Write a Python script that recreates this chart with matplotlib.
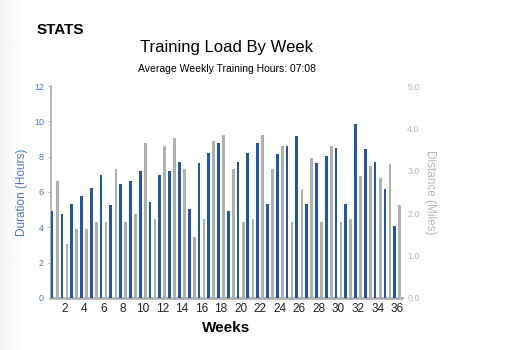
import matplotlib.pyplot as plt
import numpy as np

plt.rcParams['font.family'] = ['Liberation Sans', 'DejaVu Sans']

weeks = np.arange(1, 37)
hours = [4.9, 4.75, 5.3, 5.8, 6.25, 6.95, 5.25, 6.45, 6.65, 7.2, 5.45, 6.95,
         7.2, 7.7, 5.05, 7.65, 8.2, 8.75, 4.95, 7.7, 8.2, 8.75, 5.3, 8.15,
         8.6, 9.15, 5.3, 7.65, 8.05, 8.5, 5.3, 9.85, 8.45, 7.7, 6.15, 4.05]
miles = [2.75, 1.27, 1.63, 1.63, 1.8, 1.8, 3.05, 1.8, 1.98, 3.65, 1.87, 3.59,
         3.77, 3.05, 1.44, 1.87, 3.71, 3.84, 3.05, 1.8, 1.87, 3.84, 3.05, 3.59,
         1.8, 2.58, 3.3, 1.8, 3.59, 1.8, 1.87, 2.87, 3.11, 2.82, 3.17, 2.2]
week_ticks = list(range(2, 37, 2))
hour_ticks = [0, 2, 4, 6, 8, 10, 12]
mile_ticks = [0, 1, 2, 3, 4, 5]

blue = '#1f58ab'
grey = '#b0b0b0'
blue_txt = '#4a7ac4'
grey_txt = '#b8b8b8'

fig = plt.figure(figsize=(5.25, 3.5), dpi=100)
fig.patch.set_facecolor('white')

# faint page shading on the far left
bg = fig.add_axes([0, 0, 0.045, 1], zorder=-5)
bg.imshow(np.linspace(0.955, 1.0, 50).reshape(1, -1), cmap='gray', vmin=0, vmax=1,
          aspect='auto', extent=[0, 1, 0, 1])
bg.axis('off')

ax = fig.add_axes([0.097, 0.149, 0.668, 0.605])
ax2 = ax.twinx()

ax.bar(weeks - 0.26, hours, width=0.28, color=blue, zorder=3)
ax2.bar(weeks + 0.26, miles, width=0.28, color=grey, zorder=3)

ax.set_xlim(0.62, 36.45)
ax.set_ylim(0, 12)
ax2.set_ylim(0, 5)
ax.set_xticks(week_ticks)
ax.set_xticklabels([str(w) for w in week_ticks], fontsize=8.5, color='#222222')
ax.set_yticks(hour_ticks)
ax.set_yticklabels([str(h) for h in hour_ticks], fontsize=6.5, color=blue_txt)
ax2.set_yticks(mile_ticks)
ax2.set_yticklabels(['%.1f' % m for m in mile_ticks], fontsize=6.5, color=grey_txt)

ax.tick_params(axis='x', length=0, pad=4)
ax.tick_params(axis='y', length=2, width=0.6, color='#aaaaaa', pad=3)
ax2.tick_params(axis='y', length=0, pad=4)

for a in (ax, ax2):
    for s in a.spines.values():
        s.set_visible(False)
ax.spines['left'].set_visible(True)
ax.spines['left'].set_color('#aaaaaa')
ax.spines['left'].set_linewidth(1.2)
ax.spines['bottom'].set_visible(True)
ax.spines['bottom'].set_color('#aaaaaa')
ax.spines['bottom'].set_linewidth(1.8)

ax.set_ylabel('Duration (Hours)', fontsize=8.5, color=blue_txt)
ax.yaxis.set_label_coords(-0.066, 0.5)
ax2.set_ylabel('Distance (Miles)', fontsize=8.5, color=grey_txt, rotation=270, va='center')
ax2.yaxis.set_label_coords(1.08, 0.5)
ax.set_xlabel('Weeks', fontsize=11, fontweight='bold', labelpad=4)

fig.text(0.07, 0.915, 'STATS', fontsize=11, fontweight='bold', ha='left', va='center')
fig.text(0.432, 0.865, 'Training Load By Week', fontsize=12, ha='center', va='center')
fig.text(0.432, 0.803, 'Average Weekly Training Hours: 07:08', fontsize=7.5, ha='center', va='center')

fig.savefig('out.png', dpi=100)
